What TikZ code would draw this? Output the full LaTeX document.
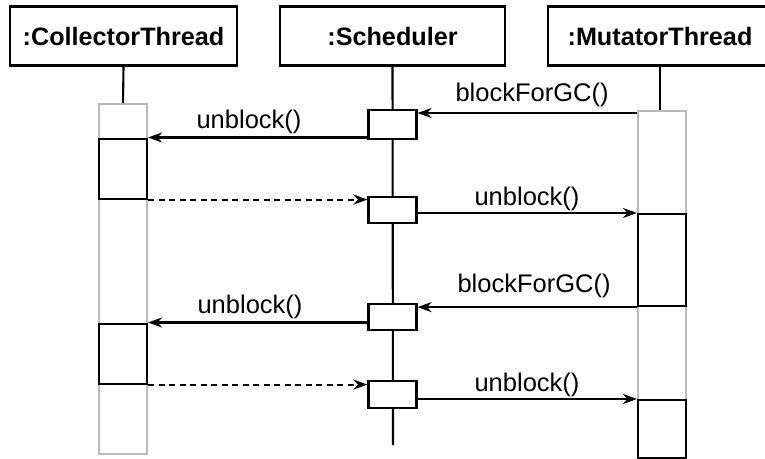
\documentclass[tikz,border=0pt]{standalone}
\usepackage{fontspec}
\setmainfont{Liberation Sans}
\usetikzlibrary{arrows.meta}
\begin{document}
\begin{tikzpicture}[x=1pt,y=-1pt,
  font=\fontsize{25.5}{30}\selectfont,
  head/.style={draw,line width=2.1pt,fill=white,inner sep=0pt,minimum height=59pt,font=\fontsize{25.2}{30}\selectfont\bfseries},
  bar/.style={draw=gray!55,line width=2pt,inner sep=0pt,minimum width=48pt,anchor=north},
  act/.style={draw,line width=2.1pt,fill=white,inner sep=0pt,minimum width=48pt,anchor=north},
  life/.style={line width=2.1pt},
  msg/.style={line width=2.1pt,-{Stealth[length=14pt,width=10pt,inset=4.5pt]}},
  ret/.style={msg,dash pattern=on 6pt off 4.5pt},
  lbl/.style={inner sep=0pt}]
\clip (0,0) rectangle (765,458);
\useasboundingbox (0,0) rectangle (765,458);
% headers
\node[head,minimum width=227pt] (ct) at (123.5,36) {:CollectorThread};
\node[head,minimum width=225pt] (sc) at (392.5,36) {:Scheduler};
\node[head,minimum width=224pt] (mt) at (660,36) {:MutatorThread};
% gray bars
\node[bar,minimum height=350pt] (cb) at (123,103) {};
\node[bar,minimum height=360pt] (mb) at (662,110) {};
% lifelines
\draw[life] (ct.south) -- (cb.north);
\draw[life] (mt.south) -- (mt.south |- mb.north);
\coordinate (send) at (393,445);
\draw[life] (sc.south) -- (send);
% activations
\node[act,minimum height=60pt] (c1) at (123,137.5) {};
\node[act,minimum height=60pt] (c2) at (123,322.5) {};
\node[act,minimum height=29pt] (s1) at (392.5,109) {};
\node[act,minimum height=26pt] (s2) at (392.5,196) {};
\node[act,minimum height=26pt] (s3) at (392.5,303) {};
\node[act,minimum height=27pt] (s4) at (392.5,380) {};
\node[act,minimum height=92pt] (m1) at (662,213) {};
\node[act,minimum height=58pt] (m2) at (662,399) {};
% messages
\draw[msg] (mb.west |- 0,113) -- (s1.east |- 0,113);
\draw[msg] (s1.south west |- c1.north east) -- (c1.north east);
\draw[ret] (c1.south east) -- (s2.north west |- c1.south east);
\draw[msg] (s2.east |- m1.north west) -- (m1.north west);
\draw[msg] (m1.south west) -- (s3.east |- m1.south west);
\draw[msg] (s3.west |- c2.north east) -- (c2.north east);
\draw[ret] (c2.south east) -- (s4.north west |- c2.south east);
\draw[msg] (s4.east |- m2.north west) -- (m2.north west);
% labels
\node[lbl] at (532,95) {blockForGC()};
\node[lbl] at (249,122) {unblock()};
\node[lbl] at (527,199) {unblock()};
\node[lbl] at (534,286) {blockForGC()};
\node[lbl] at (250,307) {unblock()};
\node[lbl] at (527,385) {unblock()};
\end{tikzpicture}
\end{document}
